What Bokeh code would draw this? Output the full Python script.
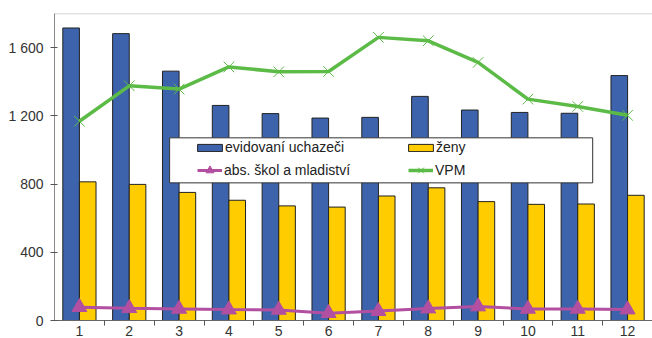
from bokeh.plotting import figure
from bokeh.models import (ColumnDataSource, Range1d, FixedTicker, Legend, LegendItem,
                          BoxAnnotation, Span)
from bokeh.transform import dodge
from bokeh.embed import file_html
from bokeh.resources import INLINE

months = list(range(1, 13))
month_labels = [str(m) for m in months]
uchazeci = [1715, 1682, 1462, 1261, 1213, 1187, 1191, 1314, 1234, 1220, 1215, 1436]
zeny = [813, 798, 751, 705, 672, 665, 730, 778, 697, 681, 683, 734]
abs_skol = [78, 72, 68, 64, 62, 43, 55, 70, 82, 68, 68, 64]
vpm = [1168, 1376, 1357, 1487, 1458, 1460, 1660, 1640, 1513, 1298, 1255, 1203]
y_ticks = [0, 400, 800, 1200, 1600]
y_tick_labels = ["0", "400", "800", "1 200", "1 600"]

names = ["evidovaní uchazeči", "ženy", "abs. škol a mladiství", "VPM"]

BLUE = "#3E63AD"
YELLOW = "#FFCC00"
PINK = "#B24FA0"
GREEN = "#5CBB47"
FONT = "Liberation Sans"
FS = "14px"

src = ColumnDataSource(dict(x=months, u=uchazeci, z=zeny, a=abs_skol, v=vpm))

p = figure(width=652, height=338, output_backend="svg", toolbar_location=None,
           x_range=Range1d(0.5, 12.5), y_range=Range1d(0, 1800),
           min_border_left=54, min_border_right=0, min_border_top=13, min_border_bottom=17)
p.outline_line_color = None
p.grid.visible = False
p.background_fill_color = "white"

bw = 1 / 3
r_u = p.vbar(x=dodge("x", -bw / 2, range=p.x_range), top="u", width=bw, source=src,
             fill_color=BLUE, line_color="#222222", line_width=1)
r_z = p.vbar(x=dodge("x", bw / 2, range=p.x_range), top="z", width=bw, source=src,
             fill_color=YELLOW, line_color="#222222", line_width=1)

r_al = p.line("x", "a", source=src, line_color=PINK, line_width=3)
r_as = p.scatter("x", "a", source=src, marker="triangle", size=15,
                 fill_color=PINK, line_color=PINK)
r_vl = p.line("x", "v", source=src, line_color=GREEN, line_width=3.5)
r_vs = p.scatter("x", "v", source=src, marker="x", size=15, line_color=GREEN, line_width=1)

# top frame line
p.add_layout(Span(location=1800, dimension="width", line_color="#c8c8c8", line_width=1.5))

xa = p.xaxis[0]
xa.ticker = FixedTicker(ticks=months, minor_ticks=[m + 0.5 for m in months[:-1]])
xa.major_label_overrides = {m: l for m, l in zip(months, month_labels)}
xa.major_tick_out = 0
xa.major_tick_in = 0
xa.minor_tick_out = 5
xa.minor_tick_in = 0
xa.minor_tick_line_color = "#555555"
xa.axis_line_color = "#666666"
xa.major_label_standoff = 0
xa.major_label_text_font = FONT
xa.major_label_text_font_size = FS
xa.major_label_text_color = "#333333"

ya = p.yaxis[0]
ya.ticker = FixedTicker(ticks=y_ticks)
ya.major_label_overrides = {t: l for t, l in zip(y_ticks, y_tick_labels)}
ya.major_tick_out = 4
ya.major_tick_in = 3
ya.minor_tick_out = 0
ya.minor_tick_in = 0
ya.axis_line_color = "#888888"
ya.major_tick_line_color = "#555555"
ya.major_label_text_font = FONT
ya.major_label_text_font_size = FS
ya.major_label_text_color = "#333333"
ya.major_label_standoff = 7

# legend box
p.add_layout(BoxAnnotation(left=2.81, right=11.30, bottom=807, top=1071,
                           fill_color="white", fill_alpha=1.0,
                           line_color="#333333", line_width=1, line_alpha=1.0))

row1 = Legend(items=[LegendItem(label=names[0], renderers=[r_u]),
                     LegendItem(label=names[1], renderers=[r_z])],
              orientation="horizontal", location=(140, 163),
              glyph_width=31, glyph_height=9, label_width=180, label_height=20,
              label_standoff=0, spacing=0, padding=0, margin=0,
              border_line_alpha=0, background_fill_alpha=0,
              label_text_font=FONT, label_text_font_size=FS, label_text_color="#222222")
row2 = Legend(items=[LegendItem(label=names[2], renderers=[r_al, r_as]),
                     LegendItem(label=names[3], renderers=[r_vl, r_vs])],
              orientation="horizontal", location=(143, 140),
              glyph_width=25, glyph_height=20, label_width=180, label_height=20,
              label_standoff=2, spacing=4, padding=0, margin=0,
              border_line_alpha=0, background_fill_alpha=0,
              label_text_font=FONT, label_text_font_size=FS, label_text_color="#222222")
p.add_layout(row1, "center")
p.add_layout(row2, "center")

open("out.html", "w").write(file_html(p, INLINE))
